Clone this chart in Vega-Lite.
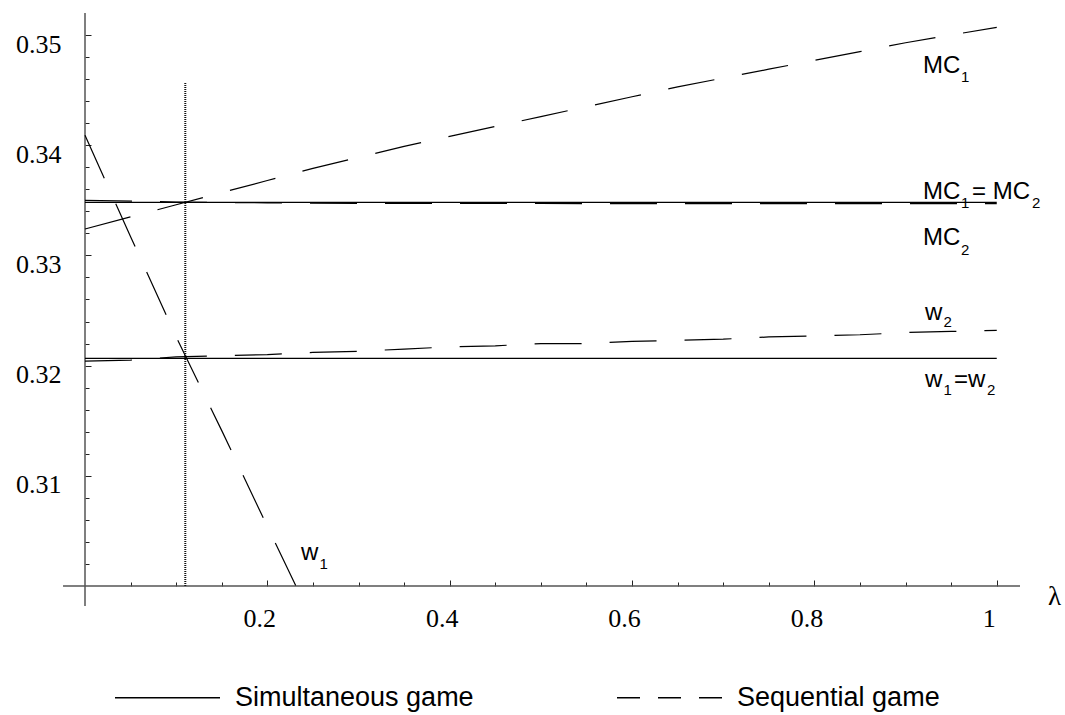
{
  "$schema": "https://vega.github.io/schema/vega-lite/v6.json",
  "width": 935,
  "height": 573,
  "autosize": "none",
  "padding": {"left": 85, "top": 13, "right": 45, "bottom": 129},
  "background": "white",
  "config": {
    "view": {"stroke": null},
    "axis": {
      "grid": false,
      "domain": false,
      "tickColor": "#222222",
      "tickWidth": 1,
      "labelFont": "Liberation Serif",
      "labelFontSize": 26,
      "labelColor": "black",
      "titleFont": "Liberation Serif",
      "titleFontWeight": "normal",
      "titleColor": "black"
    }
  },
  "datasets": {
    "frame": [
      {"x": -0.0241, "x2": 1.0255, "y": 0.3, "y2": 0.3},
      {"x": 0, "x2": 0, "y": 0.29818, "y2": 0.352}
    ],
    "curves": [
      {"curve": "MCsim", "game": "Simultaneous game", "lambda": 0, "value": 0.33482},
      {"curve": "MCsim", "game": "Simultaneous game", "lambda": 1, "value": 0.33482},
      {"curve": "wsim", "game": "Simultaneous game", "lambda": 0, "value": 0.32066},
      {"curve": "wsim", "game": "Simultaneous game", "lambda": 1, "value": 0.32066},

      {"curve": "MC1", "game": "Sequential game", "lambda": 0, "value": 0.3324},
      {"curve": "MC1", "game": "Sequential game", "lambda": 0.05, "value": 0.3335},
      {"curve": "MC1", "game": "Sequential game", "lambda": 0.1, "value": 0.3346},
      {"curve": "MC1", "game": "Sequential game", "lambda": 0.15, "value": 0.3357},
      {"curve": "MC1", "game": "Sequential game", "lambda": 0.2, "value": 0.3368},
      {"curve": "MC1", "game": "Sequential game", "lambda": 0.25, "value": 0.3379},
      {"curve": "MC1", "game": "Sequential game", "lambda": 0.3, "value": 0.3389},
      {"curve": "MC1", "game": "Sequential game", "lambda": 0.35, "value": 0.3399},
      {"curve": "MC1", "game": "Sequential game", "lambda": 0.4, "value": 0.3408},
      {"curve": "MC1", "game": "Sequential game", "lambda": 0.45, "value": 0.3417},
      {"curve": "MC1", "game": "Sequential game", "lambda": 0.5, "value": 0.3426},
      {"curve": "MC1", "game": "Sequential game", "lambda": 0.55, "value": 0.3435},
      {"curve": "MC1", "game": "Sequential game", "lambda": 0.6, "value": 0.3444},
      {"curve": "MC1", "game": "Sequential game", "lambda": 0.65, "value": 0.3453},
      {"curve": "MC1", "game": "Sequential game", "lambda": 0.7, "value": 0.3461},
      {"curve": "MC1", "game": "Sequential game", "lambda": 0.75, "value": 0.3469},
      {"curve": "MC1", "game": "Sequential game", "lambda": 0.8, "value": 0.3477},
      {"curve": "MC1", "game": "Sequential game", "lambda": 0.85, "value": 0.3485},
      {"curve": "MC1", "game": "Sequential game", "lambda": 0.9, "value": 0.3493},
      {"curve": "MC1", "game": "Sequential game", "lambda": 0.95, "value": 0.35},
      {"curve": "MC1", "game": "Sequential game", "lambda": 1, "value": 0.3507},

      {"curve": "MC2", "game": "Sequential game", "lambda": 0, "value": 0.335},
      {"curve": "MC2", "game": "Sequential game", "lambda": 0.1, "value": 0.33485},
      {"curve": "MC2", "game": "Sequential game", "lambda": 0.2, "value": 0.33477},
      {"curve": "MC2", "game": "Sequential game", "lambda": 0.3, "value": 0.33473},
      {"curve": "MC2", "game": "Sequential game", "lambda": 0.5, "value": 0.33471},
      {"curve": "MC2", "game": "Sequential game", "lambda": 0.7, "value": 0.3347},
      {"curve": "MC2", "game": "Sequential game", "lambda": 1, "value": 0.3347},

      {"curve": "w2", "game": "Sequential game", "lambda": 0, "value": 0.3204},
      {"curve": "w2", "game": "Sequential game", "lambda": 0.05, "value": 0.3205},
      {"curve": "w2", "game": "Sequential game", "lambda": 0.1, "value": 0.3208},
      {"curve": "w2", "game": "Sequential game", "lambda": 0.15, "value": 0.3209},
      {"curve": "w2", "game": "Sequential game", "lambda": 0.2, "value": 0.321},
      {"curve": "w2", "game": "Sequential game", "lambda": 0.25, "value": 0.3212},
      {"curve": "w2", "game": "Sequential game", "lambda": 0.3, "value": 0.3213},
      {"curve": "w2", "game": "Sequential game", "lambda": 0.35, "value": 0.3215},
      {"curve": "w2", "game": "Sequential game", "lambda": 0.4, "value": 0.3217},
      {"curve": "w2", "game": "Sequential game", "lambda": 0.45, "value": 0.3218},
      {"curve": "w2", "game": "Sequential game", "lambda": 0.5, "value": 0.322},
      {"curve": "w2", "game": "Sequential game", "lambda": 0.55, "value": 0.322},
      {"curve": "w2", "game": "Sequential game", "lambda": 0.6, "value": 0.3222},
      {"curve": "w2", "game": "Sequential game", "lambda": 0.65, "value": 0.3223},
      {"curve": "w2", "game": "Sequential game", "lambda": 0.7, "value": 0.3224},
      {"curve": "w2", "game": "Sequential game", "lambda": 0.75, "value": 0.3226},
      {"curve": "w2", "game": "Sequential game", "lambda": 0.8, "value": 0.3227},
      {"curve": "w2", "game": "Sequential game", "lambda": 0.85, "value": 0.3228},
      {"curve": "w2", "game": "Sequential game", "lambda": 0.9, "value": 0.323},
      {"curve": "w2", "game": "Sequential game", "lambda": 0.95, "value": 0.3231},
      {"curve": "w2", "game": "Sequential game", "lambda": 1, "value": 0.3232},

      {"curve": "w1", "game": "Sequential game", "lambda": 0, "value": 0.3409},
      {"curve": "w1", "game": "Sequential game", "lambda": 0.05, "value": 0.3317},
      {"curve": "w1", "game": "Sequential game", "lambda": 0.1, "value": 0.3226},
      {"curve": "w1", "game": "Sequential game", "lambda": 0.15, "value": 0.3141},
      {"curve": "w1", "game": "Sequential game", "lambda": 0.2, "value": 0.3054},
      {"curve": "w1", "game": "Sequential game", "lambda": 0.2314, "value": 0.3}
    ],
    "marker": [
      {"lambda": 0.11, "low": 0.3, "high": 0.34574}
    ],
    "labelsMain": [
      {"text": "MC", "lambda": 0.9191, "value": 0.34652},
      {"text": "MC", "lambda": 0.9191, "value": 0.33509},
      {"text": "= MC", "lambda": 0.9728, "value": 0.33509},
      {"text": "MC", "lambda": 0.9191, "value": 0.33094},
      {"text": "w", "lambda": 0.9213, "value": 0.32414},
      {"text": "w", "lambda": 0.9213, "value": 0.31809},
      {"text": "=w", "lambda": 0.9531, "value": 0.31809},
      {"text": "w", "lambda": 0.2369, "value": 0.30236}
    ],
    "labelsSub": [
      {"text": "1", "lambda": 0.9607, "value": 0.34576},
      {"text": "1", "lambda": 0.9607, "value": 0.33426},
      {"text": "2", "lambda": 1.0387, "value": 0.33426},
      {"text": "2", "lambda": 0.9607, "value": 0.33008},
      {"text": "2", "lambda": 0.9415, "value": 0.32348},
      {"text": "1", "lambda": 0.9415, "value": 0.31733},
      {"text": "2", "lambda": 0.9893, "value": 0.31733},
      {"text": "1", "lambda": 0.2573, "value": 0.30152}
    ]
  },
  "layer": [
    {
      "data": {"name": "frame"},
      "mark": {"type": "rule", "color": "#555555", "strokeWidth": 1.5},
      "encoding": {
        "x": {
          "field": "x", "type": "quantitative",
          "scale": {"domain": [0, 1.0255], "nice": false, "zero": false},
          "axis": {
            "orient": "bottom", "values": [0.05, 0.1, 0.15, 0.25, 0.3, 0.35, 0.45, 0.5, 0.55, 0.65, 0.7, 0.75, 0.85, 0.9, 0.95],
            "tickSize": -4, "labels": false, "title": null, "domain": false
          }
        },
        "x2": {"field": "x2"},
        "y": {
          "field": "y", "type": "quantitative",
          "scale": {"domain": [0.3, 0.352], "nice": false, "zero": false},
          "axis": {
            "orient": "left", "values": [0.302, 0.304, 0.306, 0.308, 0.312, 0.314, 0.316, 0.318, 0.322, 0.324, 0.326, 0.328, 0.332, 0.334, 0.336, 0.338, 0.342, 0.344, 0.346, 0.348],
            "tickSize": -4, "labels": false, "title": null, "domain": false
          }
        },
        "y2": {"field": "y2"}
      }
    },
    {
      "data": {"name": "curves"},
      "mark": {"type": "line", "color": "black", "strokeWidth": 1.2},
      "encoding": {
        "x": {
          "field": "lambda", "type": "quantitative",
          "scale": {"domain": [0, 1.0255], "nice": false, "zero": false},
          "axis": {
            "orient": "bottom", "values": [0.2, 0.4, 0.6, 0.8, 1], "format": "~g",
            "tickSize": -6, "labelPadding": 25, "labelBaseline": "top", "labelOffset": -8,
            "labelFont": "Liberation Serif", "labelFontSize": 26,
            "title": "λ", "titleFont": "Liberation Serif", "titleFontSize": 27, "titleX": 969, "titleY": 10,
            "titleBaseline": "middle", "titleAlign": "center", "titleAngle": 0
          }
        },
        "y": {
          "field": "value", "type": "quantitative",
          "scale": {"domain": [0.3, 0.352], "nice": false, "zero": false},
          "axis": {
            "orient": "left", "values": [0.31, 0.32, 0.33, 0.34, 0.35], "format": "~g",
            "tickSize": -6, "labelPadding": 30, "labelAlign": "right", "labelBaseline": "middle", "labelOffset": 9,
            "labelFont": "Liberation Serif", "labelFontSize": 26,
            "title": null
          }
        },
        "detail": {"field": "curve"},
        "strokeDash": {
          "field": "game", "type": "nominal",
          "scale": {"domain": ["Simultaneous game", "Sequential game"], "range": [[1, 0], [47, 28]]},
          "legend": null
        }
      }
    },
    {
      "data": {"name": "curves"},
      "transform": [{"filter": "datum.lambda < -1"}],
      "mark": {"type": "line", "color": "black", "strokeWidth": 1.2},
      "encoding": {
        "x": {"field": "lambda", "type": "quantitative", "scale": {"domain": [0, 1.0255], "nice": false, "zero": false}, "axis": null},
        "y": {"field": "value", "type": "quantitative", "scale": {"domain": [0.3, 0.352], "nice": false, "zero": false}, "axis": null},
        "detail": {"field": "curve"},
        "strokeDash": {
          "field": "game", "type": "nominal",
          "scale": {"domain": ["Simultaneous game", "Sequential game"], "range": [[1, 0], [23, 18]]},
          "legend": {
            "orient": "none", "legendX": 29, "legendY": 631, "direction": "horizontal",
            "title": null, "symbolType": "stroke", "symbolSize": 11025, "symbolStrokeWidth": 1.3,
            "symbolStrokeColor": "black", "labelFont": "Liberation Sans", "labelFontSize": 27,
            "labelColor": "black", "labelOffset": 14, "labelLimit": 0, "columnPadding": 140, "padding": 0
          }
        }
      }
    },
    {
      "data": {"name": "marker"},
      "mark": {"type": "rule", "color": "#111111", "strokeWidth": 2, "strokeDash": [1, 1]},
      "encoding": {
        "x": {"field": "lambda", "type": "quantitative", "scale": {"domain": [0, 1.0255], "nice": false, "zero": false}, "axis": null},
        "y": {"field": "low", "type": "quantitative", "scale": {"domain": [0.3, 0.352], "nice": false, "zero": false}, "axis": null},
        "y2": {"field": "high"}
      }
    },
    {
      "data": {"name": "labelsMain"},
      "mark": {"type": "text", "font": "Liberation Sans", "fontSize": 24, "align": "left", "baseline": "alphabetic", "color": "black"},
      "encoding": {
        "x": {"field": "lambda", "type": "quantitative", "scale": {"domain": [0, 1.0255], "nice": false, "zero": false}, "axis": null},
        "y": {"field": "value", "type": "quantitative", "scale": {"domain": [0.3, 0.352], "nice": false, "zero": false}, "axis": null},
        "text": {"field": "text"}
      }
    },
    {
      "data": {"name": "labelsSub"},
      "mark": {"type": "text", "font": "Liberation Sans", "fontSize": 15, "align": "left", "baseline": "alphabetic", "color": "black"},
      "encoding": {
        "x": {"field": "lambda", "type": "quantitative", "scale": {"domain": [0, 1.0255], "nice": false, "zero": false}, "axis": null},
        "y": {"field": "value", "type": "quantitative", "scale": {"domain": [0.3, 0.352], "nice": false, "zero": false}, "axis": null},
        "text": {"field": "text"}
      }
    }
  ],
  "resolve": {
    "axis": {"x": "independent", "y": "independent"},
    "scale": {"strokeDash": "independent"}
  }
}
